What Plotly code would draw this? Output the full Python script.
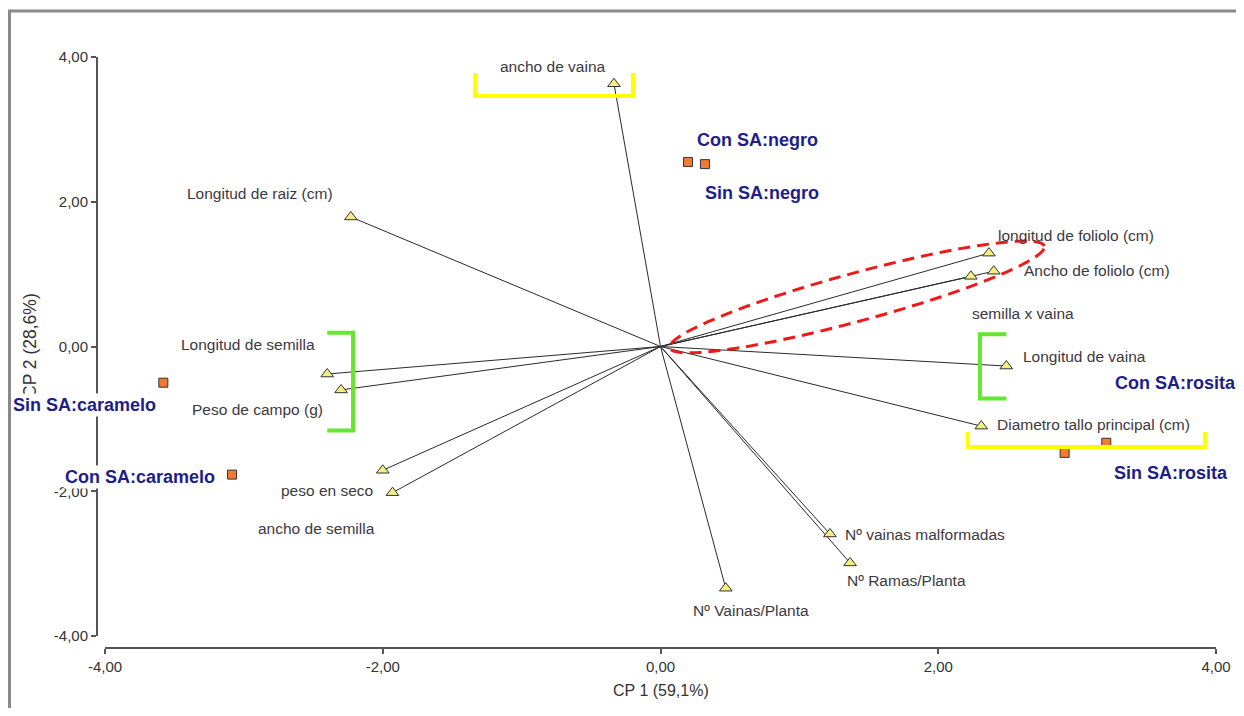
import numpy as np
import plotly.graph_objects as go

# ---------------- data ----------------
var_names = [
    "ancho de vaina", "Longitud de raiz (cm)", "longitud de foliolo (cm)",
    "Ancho de foliolo (cm)", "semilla x vaina", "Longitud de vaina",
    "Diametro tallo principal (cm)", "Nº vainas malformadas", "Nº Ramas/Planta",
    "Nº Vainas/Planta", "Longitud de semilla", "Peso de campo (g)",
    "peso en seco", "ancho de semilla",
]
var_x = [-0.335, -2.23, 2.365, 2.40, 2.235, 2.49, 2.31, 1.22, 1.365, 0.47, -2.40, -2.30, -2.00, -1.93]
var_y = [3.63, 1.79, 1.29, 1.04, 0.97, -0.27, -1.10, -2.59, -2.99, -3.34, -0.38, -0.60, -1.71, -2.02]

trt_names = ["Con SA:negro", "Sin SA:negro", "Sin SA:caramelo",
             "Con SA:caramelo", "Con SA:rosita", "Sin SA:rosita"]
trt_x = [0.198, 0.32, -3.58, -3.085, 3.21, 2.91]
trt_y = [2.55, 2.52, -0.50, -1.77, -1.33, -1.47]

tick_vals = [-4, -2, 0, 2, 4]
tick_text = ["-4,00", "-2,00", "0,00", "2,00", "4,00"]

x_title = "CP 1 (59,1%)"
y_title = "CP 2 (28,6%)"

# ---------------- label placement (pixels) ----------------
var_lab_anchor = ["center", "center", "left", "left", "left", "left", "left",
                  "left", "left", "center", "right", "right", "right", "center"]
var_lab_dx = [-61, -91, 7, 28, -1, 15, 14, 13, -5, 25, -10, -16, -8, -76]
var_lab_dy = [17, 23, 18, 1, -37, 10, 2, -1, -18, -22, 30, -20, -20, -36]

trt_lab_dx = [69, 57, -79, -92, 69, 106]
trt_lab_dy = [22, -29, -22, -2, 60, -20]

# ---------------- layout geometry ----------------
# the page body has an 8px margin, so figure pixel = screen pixel - 8
OFF = 8
W, H = 1244 - OFF, 716 - 2 * OFF
ML, MR, MT = 97 - OFF, 28, 57 - OFF
MB = H - (648 - OFF)
PW, PH = W - ML - MR, H - MT - MB
x_dom0 = 8 / PW
y_dom0 = 12 / PH
px_per_x = (PW * (1 - x_dom0)) / 8.0
px_per_y = (PH * (1 - y_dom0)) / 8.0


def paper_x(sx):
    return (sx - OFF - ML) / PW


def paper_y(sy):
    return (H - MB - (sy - OFF)) / PH


FONT = "Liberation Sans, Arial, sans-serif"

fig = go.Figure()

# radial lines from origin
lx, ly = [], []
for x, y in zip(var_x, var_y):
    lx += [0, x, None]
    ly += [0, y, None]
fig.add_trace(go.Scatter(x=lx, y=ly, mode="lines",
                         line=dict(color="#2a2a2a", width=1),
                         hoverinfo="skip", showlegend=False))

# variable markers
fig.add_trace(go.Scatter(x=var_x, y=var_y, mode="markers",
                         marker=dict(symbol="triangle-up", size=11, color="#f2f080",
                                     line=dict(color="#333333", width=1)),
                         text=var_names, showlegend=False))

# treatment markers
fig.add_trace(go.Scatter(x=trt_x, y=trt_y, mode="markers",
                         marker=dict(symbol="square", size=9, color="#f47a30",
                                     line=dict(color="#333333", width=1)),
                         text=trt_names, showlegend=False))

shapes = []
# outer frame
shapes.append(dict(type="rect", xref="paper", yref="paper",
                   x0=paper_x(9.5), x1=paper_x(1242),
                   y0=-0.3, y1=paper_y(11),
                   line=dict(color="#8a8a8a", width=3), fillcolor="rgba(0,0,0,0)",
                   layer="below"))


def bracket(pts, color):
    p = "M " + " L ".join(f"{a},{b}" for a, b in pts)
    return dict(type="path", xref="x", yref="y", path=p,
                line=dict(color=color, width=4), layer="above")


YEL = "#ffff00"
GRN = "#66e62e"
shapes.append(bracket([(-1.335, 3.78), (-1.335, 3.46), (-0.198, 3.46), (-0.198, 3.78)], YEL))
shapes.append(bracket([(2.214, -1.18), (2.214, -1.39), (3.92, -1.39), (3.92, -1.18)], YEL))
shapes.append(bracket([(-2.40, 0.19), (-2.214, 0.19), (-2.214, -1.16), (-2.40, -1.16)], GRN))
shapes.append(bracket([(2.49, 0.17), (2.30, 0.17), (2.30, -0.72), (2.49, -0.72)], GRN))

# red dashed ellipse (pixel-space geometry, converted to data)
cx, cy = 1.415, 0.684
a_px, b_px, ang = 194.0, 24.0, np.deg2rad(15.2)
t = np.linspace(0, 2 * np.pi, 121)
u = a_px * np.cos(t)
v = b_px * np.sin(t)
ex = cx + (u * np.cos(ang) - v * np.sin(ang)) / px_per_x
ey = cy + (u * np.sin(ang) + v * np.cos(ang)) / px_per_y
epath = "M " + " L ".join(f"{a:.4f},{b:.4f}" for a, b in zip(ex, ey)) + " Z"
shapes.append(dict(type="path", xref="x", yref="y", path=epath,
                   line=dict(color="#f01818", width=3, dash="12px,7px"), layer="above"))

annotations = []
# axis titles
annotations.append(dict(text=y_title, xref="paper", yref="paper",
                        x=paper_x(30), y=paper_y(346), textangle=-90,
                        showarrow=False, font=dict(family=FONT, size=17.5, color="#333333"),
                        xanchor="center", yanchor="middle"))
annotations.append(dict(text=x_title, xref="paper", yref="paper",
                        x=paper_x(661), y=paper_y(690),
                        showarrow=False, font=dict(family=FONT, size=16, color="#333333"),
                        xanchor="center", yanchor="middle"))

for name, x, y, anc, dx, dy in zip(var_names, var_x, var_y, var_lab_anchor, var_lab_dx, var_lab_dy):
    annotations.append(dict(text=name, x=x, y=y, xref="x", yref="y", showarrow=False,
                            xanchor=anc, yanchor="middle", xshift=dx, yshift=dy,
                            font=dict(family=FONT, size=15.5, color="#3c3840")))

for name, x, y, dx, dy in zip(trt_names, trt_x, trt_y, trt_lab_dx, trt_lab_dy):
    annotations.append(dict(text=f"<b>{name}</b>", x=x, y=y, xref="x", yref="y", showarrow=False,
                            xanchor="center", yanchor="middle", xshift=dx, yshift=dy,
                            bgcolor="white", borderpad=1,
                            font=dict(family=FONT, size=18, color="#1e1e8a")))

axis_common = dict(range=[-4, 4], tickvals=tick_vals, ticktext=tick_text,
                   showgrid=False, zeroline=False, showline=True,
                   linecolor="#555555", linewidth=2, ticks="outside", ticklen=5,
                   tickwidth=1.5, tickcolor="#555555",
                   tickfont=dict(family=FONT, size=15, color="#333333"),
                   anchor="free", position=0, fixedrange=True)

fig.update_layout(
    width=W, height=H,
    margin=dict(l=ML, r=MR, t=MT, b=MB, pad=0),
    paper_bgcolor="white", plot_bgcolor="white",
    xaxis=dict(domain=[x_dom0, 1], **axis_common),
    yaxis=dict(domain=[y_dom0, 1], **axis_common),
    shapes=shapes, annotations=annotations, showlegend=False,
)

fig.write_html("out.html")
